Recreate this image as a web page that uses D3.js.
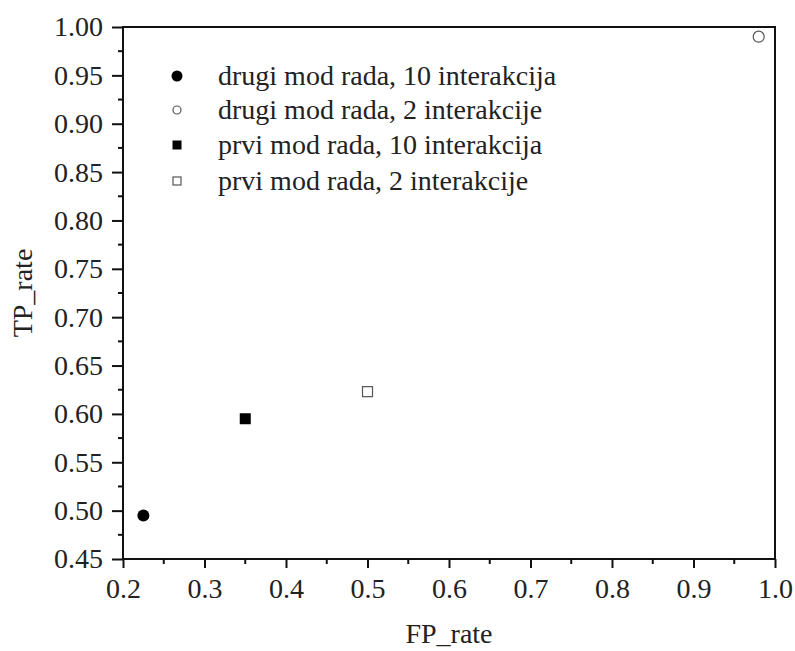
<!DOCTYPE html>
<html>
<head>
<meta charset="utf-8">
<script src="https://cdn.jsdelivr.net/npm/d3@7"></script>
<style>
  html, body { margin: 0; padding: 0; background: #fff; }
  svg { display: block; }
</style>
</head>
<body>
<svg id="chart" width="795" height="651"></svg>
<script>
// Series: FP rate vs TP rate for each operating mode / iteration count
const seriesNames = [
  "drugi mod rada, 10 interakcija",
  "drugi mod rada, 2 interakcije",
  "prvi mod rada, 10 interakcija",
  "prvi mod rada, 2 interakcije"
];
const fpRate = [0.225, 0.98, 0.35, 0.50];
const tpRate = [0.495, 0.99, 0.595, 0.623];
const symbolShape = ["circle", "circle", "square", "square"];
const symbolFilled = [true, false, true, false];

const xTicks = [0.2, 0.3, 0.4, 0.5, 0.6, 0.7, 0.8, 0.9, 1.0];
const yTicks = [0.45, 0.50, 0.55, 0.60, 0.65, 0.70, 0.75, 0.80, 0.85, 0.90, 0.95, 1.00];

const margin = { left: 123, top: 27, right: 20, bottom: 92 };
const width = 795, height = 651;
const svg = d3.select("#chart");

const x = d3.scaleLinear().domain([0.2, 1.0]).range([margin.left, width - margin.right]);
const y = d3.scaleLinear().domain([0.45, 1.0]).range([height - margin.bottom, margin.top]);

const serif = "Liberation Serif";
const fontSize = 28;

function styleText(sel, size) {
  return sel.style("font-family", serif).style("font-size", size + "px").style("fill", "#222");
}

// Frame
svg.append("rect")
  .attr("x", x(0.2)).attr("y", y(1.0))
  .attr("width", x(1.0) - x(0.2)).attr("height", y(0.45) - y(1.0))
  .attr("fill", "none").attr("stroke", "#111").attr("stroke-width", 2);

// X axis (bottom) with minor ticks
const xAxis = svg.append("g").attr("transform", `translate(0,${y(0.45)})`)
  .call(d3.axisBottom(x).tickValues(xTicks).tickFormat(d3.format(".1f")).tickSize(9).tickPadding(10));
const xMinor = d3.range(0.25, 1.0, 0.1);
svg.append("g").selectAll("line").data(xMinor).join("line")
  .attr("x1", d => x(d)).attr("x2", d => x(d))
  .attr("y1", y(0.45)).attr("y2", y(0.45) + 5)
  .attr("stroke", "#111").attr("stroke-width", 2);

// Y axis (left) with minor ticks
const yAxis = svg.append("g").attr("transform", `translate(${x(0.2)},0)`)
  .call(d3.axisLeft(y).tickValues(yTicks).tickFormat(d3.format(".2f")).tickSize(11).tickPadding(9));
const yMinor = d3.range(0.475, 1.0, 0.05);
svg.append("g").selectAll("line").data(yMinor).join("line")
  .attr("x1", x(0.2) - 5).attr("x2", x(0.2))
  .attr("y1", d => y(d)).attr("y2", d => y(d))
  .attr("stroke", "#111").attr("stroke-width", 2);

[xAxis, yAxis].forEach(g => {
  g.attr("font-family", null).attr("font-size", null);
  g.select(".domain").remove();
  g.selectAll(".tick line").attr("stroke", "#111").attr("stroke-width", 2);
  styleText(g.selectAll(".tick text"), fontSize);
});

// Axis titles
styleText(svg.append("text"), fontSize)
  .attr("x", (x(0.2) + x(1.0)) / 2).attr("y", 643)
  .attr("text-anchor", "middle")
  .text("FP_rate");
styleText(svg.append("text"), fontSize)
  .attr("transform", `translate(32,${(y(0.45) + y(1.0)) / 2}) rotate(-90)`)
  .attr("text-anchor", "middle")
  .text("TP_rate");

// Marker drawing helper
function drawMarker(g, shape, filled, cx, cy, size) {
  if (shape === "circle") {
    g.append("circle").attr("cx", cx).attr("cy", cy)
      .attr("r", filled ? size / 2 : size / 2 - 0.5)
      .attr("fill", filled ? "#000" : "#fff")
      .attr("stroke", filled ? "none" : "#555").attr("stroke-width", 1.2);
  } else {
    const s = filled ? size : size - 1;
    g.append("rect").attr("x", cx - s / 2).attr("y", cy - s / 2)
      .attr("width", s).attr("height", s)
      .attr("fill", filled ? "#000" : "#fff")
      .attr("stroke", filled ? "none" : "#555").attr("stroke-width", 1.2);
  }
}

// Data points
const pts = svg.append("g");
seriesNames.forEach((name, i) => {
  const sz = symbolShape[i] === "circle" ? 12 : 11;
  drawMarker(pts, symbolShape[i], symbolFilled[i], x(fpRate[i]), y(tpRate[i]), sz);
});

// Legend
const legend = svg.append("g");
const legendRowY = [76, 110, 145, 181];
seriesNames.forEach((name, i) => {
  const ly = legendRowY[i];
  const sz = i === 0 ? 11 : (symbolFilled[i] ? 9 : 9);
  drawMarker(legend, symbolShape[i], symbolFilled[i], 177, ly, sz);
  styleText(legend.append("text"), fontSize)
    .attr("x", 218).attr("y", ly).attr("dy", "0.33em")
    .text(name);
});
</script>
</body>
</html>
